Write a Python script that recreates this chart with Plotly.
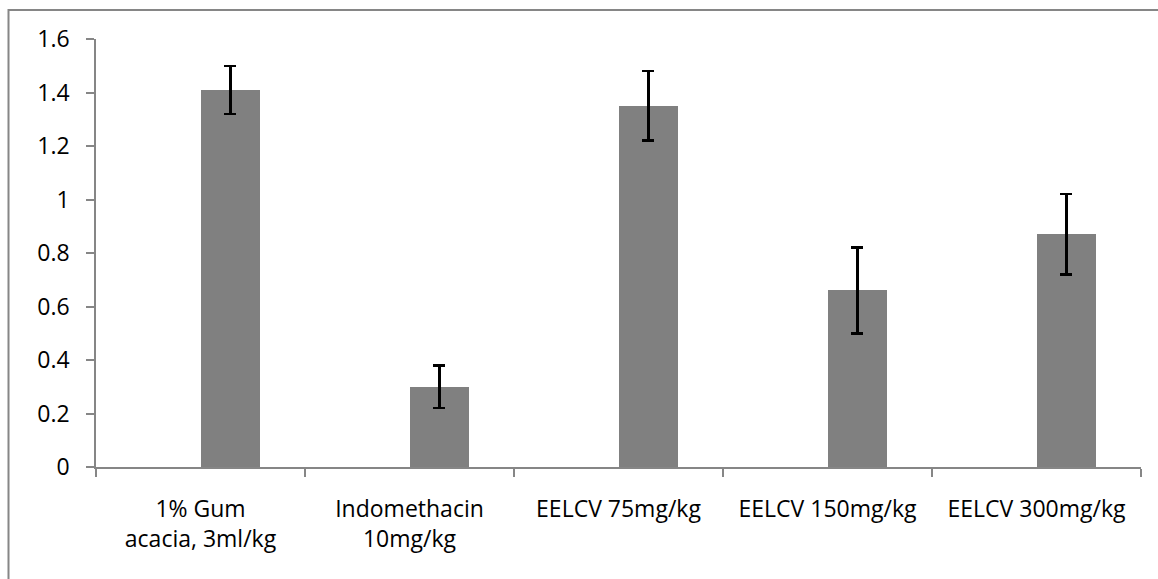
import plotly.graph_objects as go

categories = ["1% Gum<br>acacia, 3ml/kg", "Indomethacin<br>10mg/kg", "EELCV 75mg/kg",
              "EELCV 150mg/kg", "EELCV 300mg/kg"]
means = [1.41, 0.30, 1.35, 0.66, 0.87]
errors = [0.09, 0.08, 0.13, 0.16, 0.15]
y_ticks = [0, 0.2, 0.4, 0.6, 0.8, 1, 1.2, 1.4, 1.6]
y_tick_text = ["0", "0.2", "0.4", "0.6", "0.8", "1", "1.2", "1.4", "1.6"]

W, H = 1158, 579
ML, MR, MT, MB = 96, 17, 39, 112
AXIS_COLOR = "#868686"
FONT = "Open Sans"
FS = 23

fig = go.Figure()
fig.add_trace(go.Bar(
    x=categories, y=means,
    width=0.2857, offset=0,
    marker=dict(color="#808080", line=dict(width=0)),
    error_y=dict(type="data", array=errors, visible=True,
                 color="black", thickness=2.5, width=6),
    showlegend=False,
))

pw = W - ML - MR
ph = H - MT - MB
# outer chart border (top and left edges are visible; the rest is cropped)
bx0 = (8.5 - ML) / pw
by1 = (H - MB - 10) / ph
bx1 = (W + 20 - ML) / pw
by0 = (H - MB - (H + 20)) / ph
fig.add_shape(type="rect", xref="paper", yref="paper",
              x0=bx0, x1=bx1, y0=by0, y1=by1,
              line=dict(color=AXIS_COLOR, width=2), fillcolor="rgba(0,0,0,0)",
              layer="below")

fig.update_layout(
    width=W, height=H,
    margin=dict(l=ML, r=MR, t=MT, b=MB, pad=0),
    paper_bgcolor="white", plot_bgcolor="white",
    font=dict(family=FONT, size=FS, color="black"),
    bargap=0,
)
fig.update_xaxes(
    type="category", showgrid=False, zeroline=False,
    showline=True, linecolor=AXIS_COLOR, linewidth=1.5,
    ticks="outside", tickson="boundaries", ticklen=8, tickwidth=1.5,
    tickcolor=AXIS_COLOR, ticklabelstandoff=21,
    tickfont=dict(family=FONT, size=FS, color="black"),
)
fig.update_yaxes(
    range=[0, 1.6], showgrid=False, zeroline=False,
    showline=True, linecolor=AXIS_COLOR, linewidth=1.5,
    ticks="outside", ticklen=8, tickwidth=1.5, tickcolor=AXIS_COLOR,
    tickmode="array", tickvals=y_ticks, ticktext=y_tick_text,
    ticklabelstandoff=12,
    tickfont=dict(family=FONT, size=FS, color="black"),
)

fig.write_html("out.html",
               config={"displayModeBar": False},
               post_script="document.body.style.margin='0';document.body.style.overflow='hidden';")
